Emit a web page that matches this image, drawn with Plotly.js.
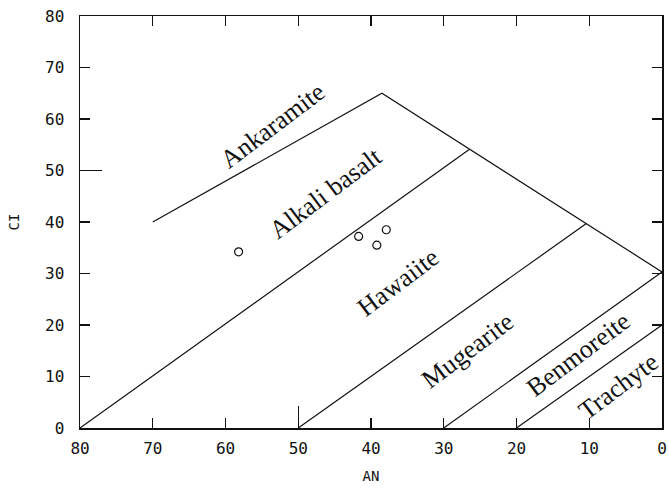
<!DOCTYPE html>
<html>
<head>
<meta charset="utf-8">
<script src="https://cdn.plot.ly/plotly-3.0.1.min.js"></script>
<style>html,body{margin:0;padding:0;background:#fff;}#chart{width:669px;height:489px;}</style>
</head>
<body>
<div id="chart"></div>
<script>
// Tick values
const xTicks = [0, 10, 20, 30, 40, 50, 60, 70, 80];
const yTicks = [0, 10, 20, 30, 40, 50, 60, 70, 80];
const majorTicks = [50];

// Field boundaries (AN, CI)
const outerAN = [70, 38.5, 0];
const outerCI = [40, 65, 30.3];
const alkHawAN = [80, 26.5];
const alkHawCI = [0, 54.1];
const hawMugAN = [50, 10.4];
const hawMugCI = [0, 39.7];
const mugBenAN = [30, 0];
const mugBenCI = [0, 30.3];
const benTraAN = [20, 0];
const benTraCI = [0, 20];

// Sample points
const sampleAN = [58.2, 41.7, 39.2, 37.9];
const sampleCI = [34.2, 37.2, 35.5, 38.5];

// Field labels
const fieldNames = ["Ankaramite", "Alkali basalt", "Hawaiite", "Mugearite", "Benmoreite", "Trachyte"];
const fieldAN = [53.5, 46.3, 36.3, 26.7, 11.5, 6.0];
const fieldCI = [58.8, 45.6, 28.3, 15.1, 14.2, 8.0];

const lineStyle = {color: '#111', width: 1.2};
function seg(x, y) {
  return {x: x, y: y, type: 'scatter', mode: 'lines', line: lineStyle, hoverinfo: 'skip', showlegend: false};
}
const traces = [
  seg(outerAN, outerCI),
  seg(alkHawAN, alkHawCI),
  seg(hawMugAN, hawMugCI),
  seg(mugBenAN, mugBenCI),
  seg(benTraAN, benTraCI),
  {x: sampleAN, y: sampleCI, type: 'scatter', mode: 'markers', showlegend: false,
   marker: {symbol: 'circle-open', size: 8, color: '#111', line: {width: 1.2, color: '#111'}}},
  {x: [], y: [], xaxis: 'x2', yaxis: 'y2', type: 'scatter', mode: 'markers', showlegend: false}
];

const annotations = fieldNames.map((t, i) => ({
  x: fieldAN[i], y: fieldCI[i], xref: 'x', yref: 'y', text: t, showarrow: false,
  textangle: -37, font: {family: 'Liberation Serif, Times New Roman, serif', size: 26, color: '#111'}
}));

const tickFont = {family: 'DejaVu Sans Mono, monospace', size: 16, color: '#111'};
const titleFont = {family: 'DejaVu Sans Mono, monospace', size: 14, color: '#111'};
const layout = {
  width: 669, height: 489,
  margin: {l: 80, r: 7, t: 16, b: 61},
  paper_bgcolor: '#fff', plot_bgcolor: '#fff',
  xaxis: {
    range: [80, 0], tickvals: xTicks, ticktext: xTicks.map(String),
    ticks: 'inside', ticklen: 10, tickwidth: 1.2, tickcolor: '#111',
    showline: true, linecolor: '#111', linewidth: 1.5, mirror: 'ticks',
    showgrid: false, zeroline: false, tickfont: tickFont, ticklabelstandoff: 5,
    title: {text: 'AN', font: titleFont, standoff: 14}
  },
  yaxis: {
    range: [0, 80], tickvals: yTicks, ticktext: yTicks.map(String),
    ticks: 'inside', ticklen: 10, tickwidth: 1.2, tickcolor: '#111',
    showline: true, linecolor: '#111', linewidth: 1.5, mirror: 'ticks',
    showgrid: false, zeroline: false, tickfont: tickFont, ticklabelstandoff: 11,
    title: {text: 'CI', font: titleFont, standoff: 22}
  },
  xaxis2: {
    overlaying: 'x', anchor: 'y2', side: 'bottom', range: [80, 0], tickvals: majorTicks,
    ticks: 'inside', ticklen: 22, tickwidth: 1.2, tickcolor: '#111',
    showticklabels: false, showline: false, showgrid: false, zeroline: false
  },
  yaxis2: {
    overlaying: 'y', anchor: 'x2', side: 'left', range: [0, 80], tickvals: majorTicks,
    ticks: 'inside', ticklen: 22, tickwidth: 1.2, tickcolor: '#111',
    showticklabels: false, showline: false, showgrid: false, zeroline: false
  },
  annotations: annotations
};

Plotly.newPlot('chart', traces, layout, {displayModeBar: false, staticPlot: true});
</script>
</body>
</html>
